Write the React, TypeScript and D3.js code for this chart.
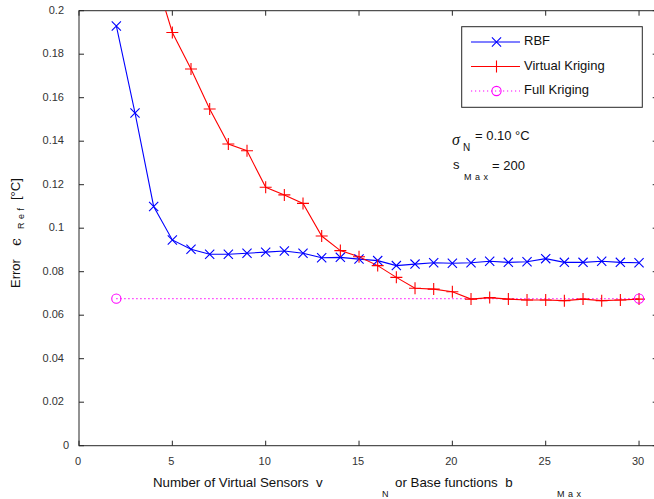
import React from "react";
import * as d3 from "d3";

const rbfX = [2,3,4,5,6,7,8,9,10,11,12,13,14,15,16,17,18,19,20,21,22,23,24,25,26,27,28,29,30];
const rbfY = [0.193,0.153,0.110,0.0946,0.0903,0.088,0.088,0.0885,0.089,0.0895,0.0885,0.0864,0.0866,0.0858,0.0851,0.0828,0.0835,0.0841,0.0839,0.0841,0.0848,0.0843,0.0846,0.0860,0.0843,0.0843,0.0848,0.0843,0.0841];
const vkX = [4,5,6,7,8,9,10,11,12,13,14,15,16,17,18,19,20,21,22,23,24,25,26,27,28,29,30];
const vkY = [0.218,0.190,0.1732,0.1548,0.1387,0.1356,0.1188,0.1153,0.1114,0.0964,0.0897,0.0869,0.0828,0.0774,0.0724,0.0720,0.0708,0.0674,0.0681,0.0674,0.0670,0.0670,0.0667,0.0674,0.0667,0.0670,0.0674];
const fkX = [2, 30];
const fkY = [0.0676, 0.0676];
const xTicks = [0, 5, 10, 15, 20, 25, 30];
const yTicks = [0, 0.02, 0.04, 0.06, 0.08, 0.1, 0.12, 0.14, 0.16, 0.18, 0.2];
const legendLabels = ["RBF", "Virtual Kriging", "Full Kriging"];

const W = 654, H = 499;
const L = 79, R = 657.7, T = 10.7, B = 445.7;
const AX = "#262626";
const TXT = "#333333";
const FONT = "'Liberation Sans', Arial, sans-serif";

const xS = d3.scaleLinear().domain([0, 31]).range([L, R]);
const yS = d3.scaleLinear().domain([0, 0.2]).range([B, T]);

const lineGen = d3.line<[number, number]>().x(d => xS(d[0])).y(d => yS(d[1]));

const zip = (xs: number[], ys: number[]) => xs.map((x, i) => [x, ys[i]] as [number, number]);

const XMark = ({ cx, cy, s = 4.6, color }: any) => (
  <path d={`M${cx - s},${cy - s}L${cx + s},${cy + s}M${cx - s},${cy + s}L${cx + s},${cy - s}`} stroke={color} strokeWidth={1.1} fill="none" />
);
const PlusMark = ({ cx, cy, s = 6, color }: any) => (
  <path d={`M${cx - s},${cy}L${cx + s},${cy}M${cx},${cy - s}L${cx},${cy + s}`} stroke={color} strokeWidth={1.1} fill="none" />
);
const CircleMark = ({ cx, cy, r = 4.6, color }: any) => (
  <circle cx={cx} cy={cy} r={r} stroke={color} strokeWidth={1.1} fill="none" />
);

const fmt = (v: number) => String(+v.toFixed(2));

export default function App() {
  const rbf = zip(rbfX, rbfY);
  const vk = zip(vkX, vkY);
  const fk = zip(fkX, fkY);
  const legY = [42, 66.5, 91];
  return (
    <svg width={W} height={H} style={{ position: "absolute", left: 0, top: 0, background: "#fff" }} fontFamily={FONT}>
      <defs>
        <clipPath id="plotclip">
          <rect x={L} y={T} width={R - L} height={B - T} />
        </clipPath>
      </defs>
      <rect x={0} y={0} width={W} height={H} fill="#fff" />
      <rect x={L} y={T} width={R - L} height={B - T} fill="none" stroke={AX} strokeWidth={1} />
      {xTicks.map(t => (
        <g key={"xt" + t}>
          <line x1={xS(t)} x2={xS(t)} y1={B} y2={B - 5} stroke={AX} />
          <line x1={xS(t)} x2={xS(t)} y1={T} y2={T + 5} stroke={AX} />
          <text x={xS(t) - 1} y={465} fontSize={11} fill={TXT} textAnchor="middle">{fmt(t)}</text>
        </g>
      ))}
      {yTicks.map(t => (
        <g key={"yt" + t}>
          <line x1={L} x2={L + 5} y1={yS(t)} y2={yS(t)} stroke={AX} />
          <line x1={R} x2={R - 5} y1={yS(t)} y2={yS(t)} stroke={AX} />
          <text x={t === 0 ? 69 : 64} y={yS(t) + 3} fontSize={11} fill={TXT} textAnchor="end">{fmt(t)}</text>
        </g>
      ))}
      <g clipPath="url(#plotclip)">
        <path d={lineGen(fk) || ""} stroke="#ff00ff" strokeWidth={1.1} fill="none" strokeDasharray="1.2,2.8" />
        <path d={lineGen(rbf) || ""} stroke="#0000ff" strokeWidth={1.1} fill="none" />
        <path d={lineGen(vk) || ""} stroke="#ff0000" strokeWidth={1.1} fill="none" />
        {rbf.map((d, i) => <XMark key={"r" + i} cx={xS(d[0])} cy={yS(d[1])} color="#0000ff" />)}
        {vk.map((d, i) => <PlusMark key={"v" + i} cx={xS(d[0])} cy={yS(d[1])} color="#ff0000" />)}
        {fk.map((d, i) => <CircleMark key={"f" + i} cx={xS(d[0])} cy={yS(d[1])} color="#ff00ff" />)}
      </g>
      <rect x={461.7} y={26.7} width={180.6} height={80.6} fill="#fff" stroke={AX} strokeWidth={1} />
      <line x1={471} x2={520} y1={legY[0]} y2={legY[0]} stroke="#0000ff" strokeWidth={1.1} />
      <XMark cx={496.5} cy={legY[0]} color="#0000ff" />
      <line x1={471} x2={520} y1={legY[1]} y2={legY[1]} stroke="#ff0000" strokeWidth={1.1} />
      <PlusMark cx={496.5} cy={legY[1]} color="#ff0000" />
      <line x1={471} x2={520} y1={legY[2]} y2={legY[2]} stroke="#ff00ff" strokeWidth={1.1} strokeDasharray="1.2,2.8" />
      <CircleMark cx={496.5} cy={legY[2]} color="#ff00ff" />
      {legendLabels.map((l, i) => (
        <text key={l} x={524} y={legY[i] + 3} fontSize={13} fill="#111">{l}</text>
      ))}
      <text x={452} y={145} fontSize={16} fontStyle="italic" fontFamily="'Liberation Serif', serif" fill="#111">σ</text>
      <text x={463} y={151} fontSize={10} fill="#111">N</text>
      <text x={475} y={140} fontSize={13} fill="#111">= 0.10 °C</text>
      <text x={453} y={169} fontSize={13} fill="#111">s</text>
      <text x={464} y={180} fontSize={9} fill="#111" letterSpacing="0.5" style={{ whiteSpace: "pre" }}>{"M a x"}</text>
      <text x={492} y={170} fontSize={13} fill="#111">= 200</text>
      <text x={153} y={487} fontSize={13.3} fill="#111" style={{ whiteSpace: "pre" }}>{"Number of Virtual Sensors  v"}</text>
      <text x={382} y={497} fontSize={9} fill="#111">N</text>
      <text x={395} y={487} fontSize={13.3} fill="#111" style={{ whiteSpace: "pre" }}>{"or Base functions  b"}</text>
      <text x={557} y={497} fontSize={9} fill="#111" letterSpacing="0.5" style={{ whiteSpace: "pre" }}>{"M a x"}</text>
      <g transform="translate(20,288) rotate(-90)">
        <text x={0} y={0} fontSize={13} fill="#111">Error</text>
        <text x={42} y={1} fontSize={14} fill="#111" fontFamily="'DejaVu Serif', serif">ϵ</text>
        <text x={59} y={4} fontSize={9} fill="#111" letterSpacing="0.5" style={{ whiteSpace: "pre" }}>{"R e f"}</text>
        <text x={88} y={0} fontSize={13} fill="#111">[°C]</text>
      </g>
    </svg>
  );
}
